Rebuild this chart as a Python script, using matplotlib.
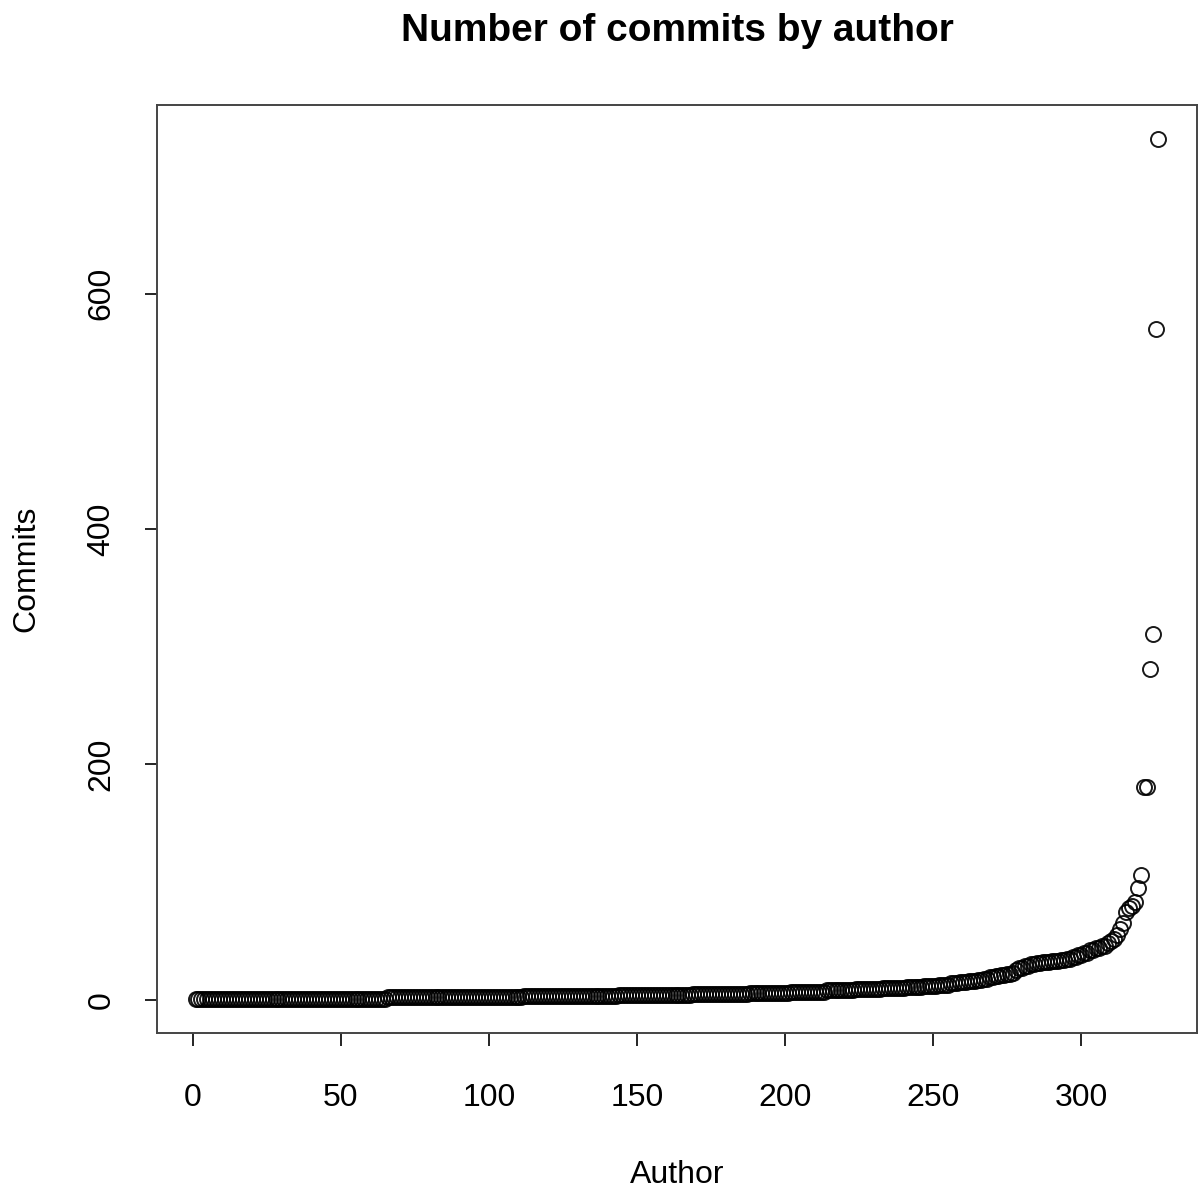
import numpy as np
import matplotlib.pyplot as plt

plt.rcParams['font.family'] = ['Liberation Sans', 'DejaVu Sans']

# commit counts (sorted) and how many authors have each count
commit_values = [1, 2, 3, 4, 5, 6, 7, 8, 9, 10, 11, 12, 13, 14, 15, 16,
                 17, 18, 19, 20, 21, 22, 23, 25, 27, 29, 30, 31, 32, 33,
                 34, 35, 36, 38, 40, 42, 44, 46, 48, 50, 52, 55, 60, 65,
                 75, 78, 80, 83, 95, 106, 181, 281, 311, 570, 731]
author_counts = [65, 46, 32, 25, 19, 14, 12, 10, 9, 8, 6, 5, 4, 3, 3, 3,
                 2, 2, 2, 2, 2, 2, 1, 1, 2, 2, 2, 2, 3, 3,
                 2, 2, 2, 2, 2, 2, 2, 2, 1, 1, 1, 1, 1, 1,
                 1, 1, 1, 1, 1, 1, 2, 1, 1, 1, 1]

commits = np.repeat(commit_values, author_counts)
author = np.arange(1, len(commits) + 1)

x_ticks = [0, 50, 100, 150, 200, 250, 300]
y_ticks = [0, 200, 400, 600]

fig = plt.figure(figsize=(11.98, 11.93), dpi=100)
ax = fig.add_axes([157/1198, 160/1193, 1040/1198, 928/1193])

ax.plot(author, commits, 'o', markersize=10.8, markerfacecolor='none',
        markeredgecolor='black', markeredgewidth=1.4, alpha=0.9)

n = len(commits)
xr = n - 1
ax.set_xlim(1 - 0.04*xr, n + 0.04*xr)
yr = commits.max() - commits.min()
ax.set_ylim(commits.min() - 0.04*yr, commits.max() + 0.04*yr)

ax.set_xticks(x_ticks)
ax.set_yticks(y_ticks)
ax.set_yticklabels([str(v) for v in y_ticks], rotation=90, va='center')
ax.tick_params(axis='both', length=9, width=1.2, labelsize=23, colors='black')
ax.tick_params(axis='x', pad=27)
ax.tick_params(axis='y', pad=20)

for s in ax.spines.values():
    s.set_linewidth(1.4)
    s.set_color('#444444')

ax.set_xlabel('Author', fontsize=23, labelpad=34)
ax.set_ylabel('Commits', fontsize=23, labelpad=33)
ax.set_title('Number of commits by author', fontsize=28, fontweight='bold', pad=46)

fig.savefig('out.png', dpi=100)
